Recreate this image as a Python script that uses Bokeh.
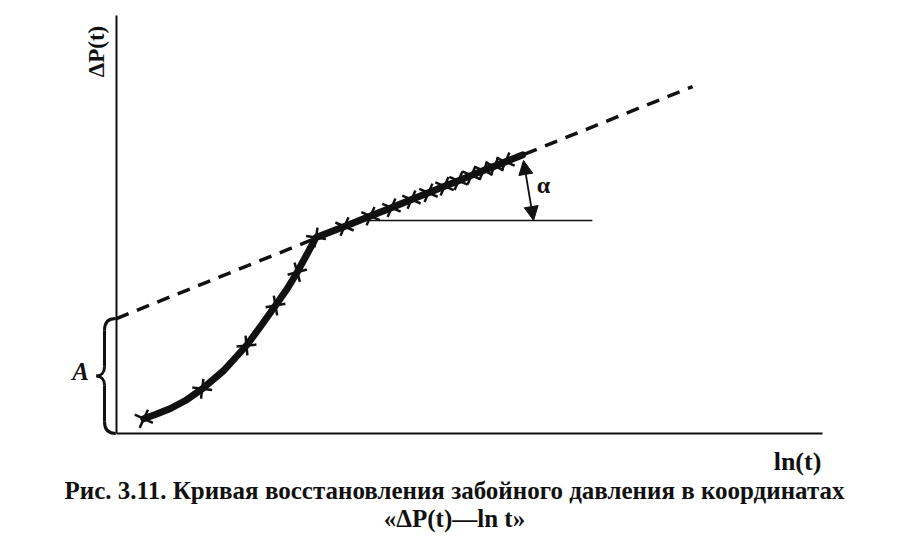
import math
from bokeh.plotting import figure
from bokeh.models import Range1d, Label, Arrow, NormalHead
from bokeh.embed import file_html
from bokeh.resources import INLINE

# ---- data (abstract units: ln t on x, ΔP on y) ----
curve_x = [0.387, 0.552, 0.765, 0.977, 1.214, 1.520, 1.841, 2.040, 2.252,
           2.418, 2.560, 2.701, 2.826,
           3.229, 3.598, 3.895, 4.178, 4.419, 4.646, 4.844, 5.028, 5.198,
           5.354, 5.510, 5.751]
curve_y = [0.352, 0.455, 0.598, 0.789, 1.069, 1.507, 2.105, 2.560, 3.062,
           3.462, 3.859, 4.299, 4.690,
           4.952, 5.201, 5.402, 5.596, 5.758, 5.914, 6.048, 6.175, 6.289,
           6.395, 6.502, 6.665]
marker_x = [0.387, 1.214, 1.841, 2.252, 2.560, 2.826, 3.229, 3.598, 3.895,
            4.178, 4.419, 4.646, 4.844, 5.028, 5.198, 5.354, 5.510]
marker_y = [0.352, 1.069, 2.105, 3.062, 3.859, 4.690, 4.952, 5.201, 5.402,
            5.596, 5.758, 5.914, 6.048, 6.175, 6.289, 6.395, 6.502]
asym_x = [0.0, 8.16]
asym_y = [2.751, 8.30]          # intercept A = 2.751
A_value = 2.751
horiz_x = [3.55, 6.74]
horiz_y = [5.096, 5.096]
angle_arrow = (5.765, 6.531, 5.907, 5.096)
axis_max_x = 10.0
axis_max_y = 10.0

y_label = "ΔP(t)"
x_label = "ln(t)"
a_label = "A"
alpha_label = "α"
caption1 = "Рис. 3.11. Кривая восстановления забойного давления в координатах"
caption2 = "«ΔP(t)—ln t»"

# ---- figure ----
W, H = 905, 535
PXX, PXY = 70.6, 41.8
OX, OY = 116, 433
p = figure(width=W, height=H, output_backend="svg", toolbar_location=None,
           x_range=Range1d(-OX / PXX, (W - OX) / PXX),
           y_range=Range1d((OY - H) / PXY, OY / PXY),
           min_border=0)
p.axis.visible = False
p.grid.visible = False
p.outline_line_color = None
p.background_fill_color = "white"
p.border_fill_color = "white"

ink = "#111111"
serif = "Liberation Serif"

# axes
p.line([0, axis_max_x], [0, 0], line_color=ink, line_width=2)
p.line([0, 0], [0, axis_max_y], line_color=ink, line_width=2)

# asymptote dashed line
p.line(asym_x, asym_y, line_color=ink, line_width=3.5, line_dash="13 9")

# horizontal reference
p.line(horiz_x, horiz_y, line_color=ink, line_width=1.5)

# thick curve
p.line(curve_x, curve_y, line_color=ink, line_width=7, line_join="round", line_cap="round")

# marker orientation follows the local direction of the curve (on screen)
angles = []
for mx, my in zip(marker_x, marker_y):
    i = min(range(len(curve_x)), key=lambda k: abs(curve_x[k] - mx) + abs(curve_y[k] - my))
    a = max(i - 1, 0)
    b = min(i + 1, len(curve_x) - 1)
    dx = (curve_x[b] - curve_x[a]) * PXX
    dy = (curve_y[b] - curve_y[a]) * PXY
    angles.append(math.atan2(dy, dx))
p.scatter(marker_x, marker_y, marker="x", size=20, angle=angles,
          line_color=ink, line_width=2.5)

# angle arrow
x0, y0, x1, y1 = angle_arrow
p.add_layout(Arrow(x_start=x1, y_start=y1, x_end=x0, y_end=y0,
                   start=NormalHead(size=14, fill_color=ink, line_color=ink),
                   end=NormalHead(size=14, fill_color=ink, line_color=ink),
                   line_color=ink, line_width=1.8))

# brace for A
bx, tx, ex = -0.17, -0.285, -0.01
mid = A_value / 2
bz = dict(x0=[ex, bx, bx, tx, bx, bx],
          y0=[A_value, A_value - 0.28, mid + 0.22, mid, mid - 0.22, 0.28],
          x1=[bx, bx, tx, bx, bx, ex],
          y1=[A_value - 0.28, mid + 0.22, mid, mid - 0.22, 0.28, 0.0],
          cx0=[-0.12, bx, bx, -0.22, bx, bx],
          cy0=[A_value, A_value - 0.28, mid + 0.08, mid, mid - 0.22, 0.10],
          cx1=[bx, bx, -0.22, bx, bx, -0.12],
          cy1=[A_value - 0.10, mid + 0.22, mid, mid - 0.08, 0.28, 0.0])
p.bezier(source=bz, x0="x0", y0="y0", x1="x1", y1="y1",
         cx0="cx0", cy0="cy0", cx1="cx1", cy1="cy1",
         line_color=ink, line_width=3)

def px_x(px):
    return (px - OX) / PXX

def px_y(py):
    return (OY - py) / PXY

def lab(text, x, y, size, style="bold", angle=0.0, align="center"):
    p.add_layout(Label(x=x, y=y, text=text, text_font=serif,
                       text_font_size=f"{size}px", text_font_style=style,
                       text_color=ink, text_align=align, text_baseline="middle",
                       angle=angle))

lab(y_label, px_x(96), px_y(51), 23, angle=math.pi / 2)
lab(x_label, px_x(797), px_y(461), 26)
lab(a_label, px_x(80), px_y(371), 25, style="bold italic")
lab(alpha_label, px_x(543), px_y(184), 24)
lab(caption1, px_x(454), px_y(490), 25)
lab(caption2, px_x(454), px_y(518), 25)

open("out.html", "w").write(file_html(p, INLINE))
